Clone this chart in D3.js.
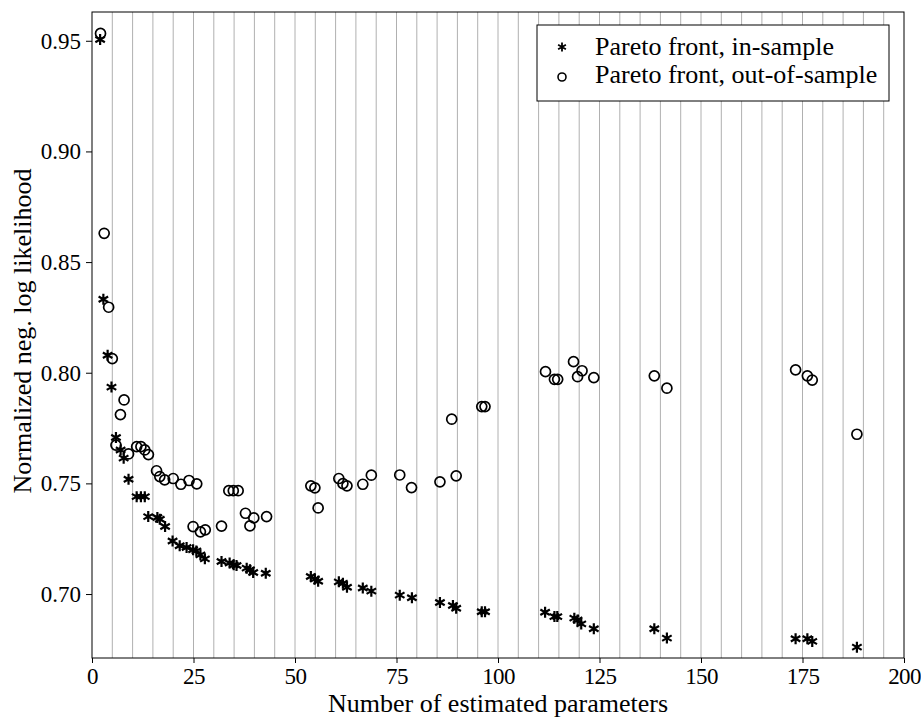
<!DOCTYPE html>
<html>
<head>
<meta charset="utf-8">
<script src="https://cdn.jsdelivr.net/npm/d3@7"></script>
<style>
  body { margin: 0; background: #fff; }
  svg text { font-family: "Liberation Serif", "DejaVu Serif", serif; fill: #000; }
</style>
</head>
<body>
<svg width="921" height="719"></svg>
<script>
// in-sample pareto front
let inX = [2.0, 2.8, 3.85, 4.8, 5.9, 7.05, 7.8, 9.0, 11, 12.05, 13.0, 13.85, 16.1, 16.7, 18.0,
  19.85, 21.6, 23.3, 24.9, 25.7, 26.7, 27.8, 31.9, 33.9, 34.9, 35.6, 38.1, 38.9, 39.7, 42.8,
  53.9, 54.9, 55.7, 60.8, 61.8, 62.8, 66.7, 68.8, 75.8, 78.8, 85.7, 88.9, 89.7, 96.0, 96.8,
  111.6, 113.9, 114.6, 118.8, 119.6, 120.5, 123.6, 138.5, 141.6, 173.3, 176.2, 177.4, 188.4];
let inY = [0.9506, 0.8332, 0.8079, 0.7935, 0.7707, 0.7651, 0.7614, 0.7519, 0.744, 0.744, 0.744, 0.735, 0.7346, 0.7338, 0.7305,
  0.724, 0.7218, 0.721, 0.72, 0.7195, 0.7177, 0.7159, 0.7147, 0.714, 0.7132, 0.7129, 0.7117, 0.711, 0.7097, 0.7094,
  0.7079, 0.7068, 0.7058, 0.7055, 0.7049, 0.7031, 0.7027, 0.7013, 0.6995, 0.6983, 0.6962, 0.6948, 0.6936, 0.692, 0.692,
  0.6918, 0.6898, 0.6898, 0.6891, 0.6883, 0.6865, 0.6843, 0.6843, 0.6801, 0.6798, 0.6798, 0.6786, 0.676];

// out-of-sample pareto front
let outX = [2.1, 3.0, 4.1, 5.0, 7.9, 7.0, 5.9, 9.0, 11, 12.05, 13.0, 13.9, 15.9, 16.7, 17.9, 20.0, 21.9, 23.9, 25.8,
  33.7, 34.8, 36.0, 24.9, 26.7, 27.9, 31.9, 37.8, 38.9, 39.85, 43.0,
  53.9, 54.9, 55.7, 60.8, 61.8, 62.8, 66.7, 68.8, 75.8, 78.7, 85.7, 88.6, 89.7, 96.0, 96.8,
  111.7, 113.9, 114.7, 118.6, 119.6, 120.7, 123.6, 138.5, 141.6, 173.3, 176.2, 177.4, 188.4];
let outY = [0.9533, 0.863, 0.8296, 0.8064, 0.7877, 0.7811, 0.7673, 0.7633, 0.7666, 0.7666, 0.7651, 0.763, 0.7557, 0.7531, 0.7516, 0.7522, 0.7496, 0.7513, 0.7498,
  0.7467, 0.7467, 0.7467, 0.7305, 0.7281, 0.729, 0.7307, 0.7365, 0.7308, 0.7344, 0.735,
  0.7489, 0.748, 0.7389, 0.7522, 0.7499, 0.7489, 0.7496, 0.7537, 0.7538, 0.7481, 0.7507, 0.779, 0.7534, 0.7847, 0.7847,
  0.8005, 0.797, 0.797, 0.805, 0.7982, 0.8009, 0.7978, 0.7986, 0.793, 0.8013, 0.7986, 0.7967, 0.7722];

let xTicks = [0, 25, 50, 75, 100, 125, 150, 175, 200];
let yTicks = [0.70, 0.75, 0.80, 0.85, 0.90, 0.95];
let legendLabels = ["Pareto front, in-sample", "Pareto front, out-of-sample"];

let margin = {left: 92, right: 17, top: 12, bottom: 61};
let width = 921, height = 719;

let svg = d3.select("svg");

let x = d3.scaleLinear().domain([0, 200]).range([margin.left, width - margin.right]);
let y = d3.scaleLinear().domain([0.6711, 0.963]).range([height - margin.bottom, margin.top]);

// vertical grid every 5
svg.append("g")
  .selectAll("line")
  .data(d3.range(5, 200, 5))
  .enter().append("line")
  .attr("x1", d => x(d)).attr("x2", d => x(d))
  .attr("y1", y.range()[1]).attr("y2", y.range()[0])
  .attr("stroke", "#b0b0b0")
  .attr("stroke-width", 1);

let tickFont = "23px";

let xAxis = svg.append("g")
  .attr("transform", `translate(0,${y.range()[0]})`)
  .call(d3.axisBottom(x).tickValues(xTicks).tickSize(5).tickPadding(5));
xAxis.selectAll("text")
  .style("font-size", tickFont)
  .style("letter-spacing", "-0.6px");

let yAxis = svg.append("g")
  .attr("transform", `translate(${x.range()[0]},0)`)
  .call(d3.axisLeft(y).tickValues(yTicks).tickFormat(d3.format(".2f")).tickSize(6).tickPadding(5));
yAxis.selectAll("text").style("font-size", tickFont);

svg.selectAll(".domain").remove();
svg.selectAll(".tick line").attr("stroke", "#000");

// frame
svg.append("rect")
  .attr("x", x.range()[0]).attr("y", y.range()[1])
  .attr("width", x.range()[1] - x.range()[0])
  .attr("height", y.range()[0] - y.range()[1])
  .attr("fill", "none").attr("stroke", "#000").attr("stroke-width", 1);

// asterisk marker
function asterisk(r) {
  let p = "";
  for (let a of [90, 30, 150]) {
    let t = a * Math.PI / 180;
    let dx = r * Math.cos(t), dy = r * Math.sin(t);
    p += `M${-dx},${dy}L${dx},${-dy}`;
  }
  return p;
}

let inData = inX.map((d, i) => [d, inY[i]]);
let outData = outX.map((d, i) => [d, outY[i]]);

svg.append("g")
  .selectAll("path")
  .data(inData)
  .enter().append("path")
  .attr("transform", d => `translate(${x(d[0])},${y(d[1])})`)
  .attr("d", asterisk(5.5))
  .attr("stroke", "#000")
  .attr("stroke-width", 2.2)
  .attr("fill", "none");

svg.append("g")
  .selectAll("circle")
  .data(outData)
  .enter().append("circle")
  .attr("cx", d => x(d[0]))
  .attr("cy", d => y(d[1]))
  .attr("r", 5)
  .attr("fill", "none")
  .attr("stroke", "#000")
  .attr("stroke-width", 1.7);

// axis labels
svg.append("text")
  .attr("x", (x.range()[0] + x.range()[1]) / 2)
  .attr("y", 712)
  .attr("text-anchor", "middle")
  .style("font-size", "26px")
  .text("Number of estimated parameters");

svg.append("text")
  .attr("transform", `translate(31,${(y.range()[0] + y.range()[1]) / 2 - 4}) rotate(-90)`)
  .attr("text-anchor", "middle")
  .style("font-size", "26px")
  .text("Normalized neg. log likelihood");

// legend
let lg = svg.append("g").attr("transform", "translate(537,25)");
lg.append("rect")
  .attr("width", 352).attr("height", 76)
  .attr("fill", "#fff").attr("stroke", "#000").attr("stroke-width", 1);
lg.append("path")
  .attr("transform", "translate(25,22)")
  .attr("d", asterisk(4.5))
  .attr("stroke", "#000").attr("stroke-width", 1.8);
lg.append("circle")
  .attr("cx", 25).attr("cy", 52).attr("r", 4)
  .attr("fill", "none").attr("stroke", "#000").attr("stroke-width", 1.6);
lg.selectAll("text.lbl")
  .data(legendLabels)
  .enter().append("text")
  .attr("class", "lbl")
  .attr("x", 58)
  .attr("y", (d, i) => 30 + i * 28)
  .style("font-size", "26px")
  .text(d => d);
</script>
</body>
</html>
